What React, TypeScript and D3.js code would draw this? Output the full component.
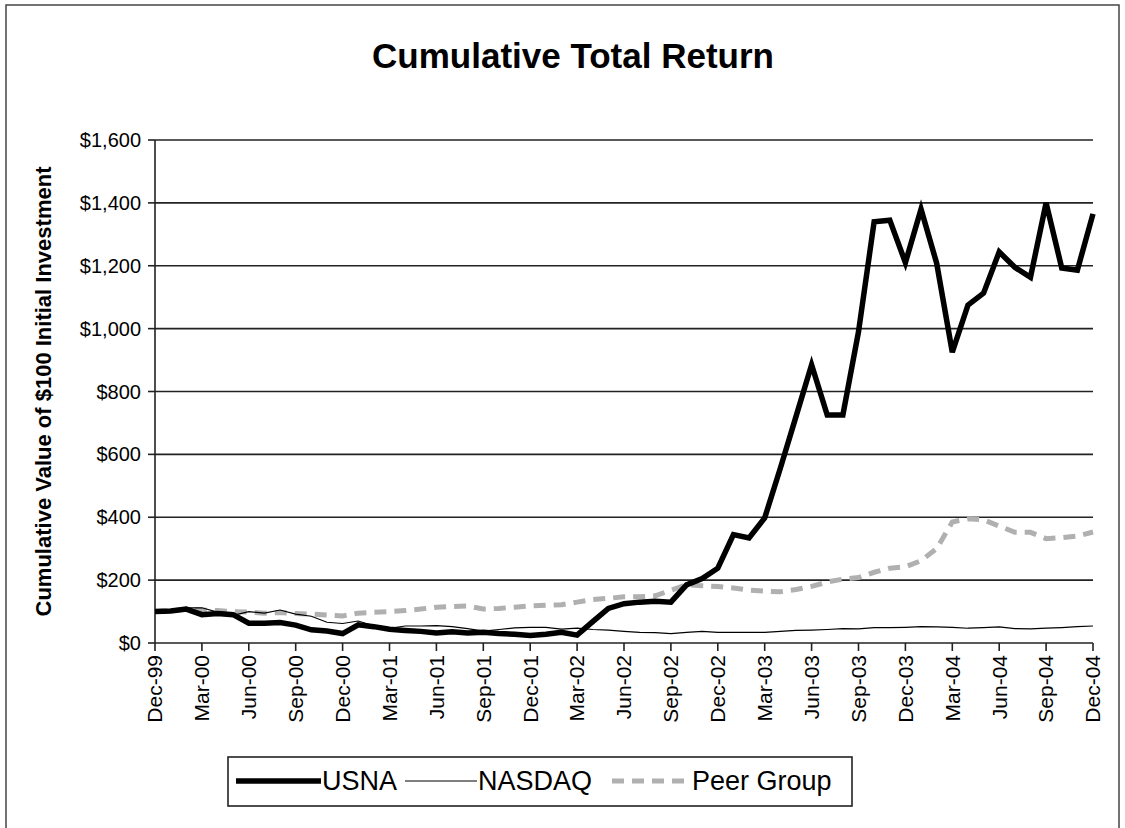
import * as d3 from "d3";

const months = d3.range(61).map((i) => new Date(1999, 11 + i, 1));
const fmt = d3.timeFormat("%b-%y");

const usna = [
  100, 102, 108, 90, 94, 90, 63, 63, 65, 57, 42, 38, 30,
  58, 52, 44, 40, 37, 32, 36, 32, 34, 30, 28, 24,
  28, 34, 25, 68, 110, 125, 130, 133, 130, 185, 205, 238,
  345, 334, 398, 556, 720, 885, 725, 725, 990, 1340, 1345, 1210,
  1380, 1208, 925, 1075, 1113, 1244, 1195, 1163, 1400, 1193, 1186, 1365,
];

const nasdaq = [
  100, 97, 112, 112, 98, 88, 100, 95, 105, 92, 85, 66, 62,
  70, 55, 47, 54, 54, 55, 52, 46, 38, 43, 48, 50,
  50, 44, 47, 43, 41, 37, 34, 33, 30, 34, 37, 34,
  34, 34, 34, 37, 40, 41, 43, 46, 45, 49, 49, 50,
  52, 51, 50, 47, 49, 51, 46, 45, 47, 49, 52, 54,
];

const peer = [
  100, 102, 108, 105, 103, 100, 98, 95, 97, 94, 92, 89, 86,
  95, 98, 100, 103, 108, 114, 116, 118, 108, 110, 114, 118,
  120, 122, 130, 138, 142, 147, 147, 150, 168, 185, 182, 180,
  175, 168, 165, 163, 170, 180, 194, 203, 208, 225, 238, 242,
  262, 300, 385, 395, 392, 372, 352, 352, 332, 335, 340, 353,
];

const yTicks = [0, 200, 400, 600, 800, 1000, 1200, 1400, 1600];
const tickIdx = d3.range(0, 61, 3);

const series = [
  { name: "USNA", values: usna, color: "#000", width: 5.5, dash: "" },
  { name: "NASDAQ", values: nasdaq, color: "#000", width: 1.2, dash: "" },
  { name: "Peer Group", values: peer, color: "#b0b0b0", width: 5, dash: "12,8" },
];

export default function App() {
  const left = 155, right = 1093, top = 140, bottom = 643;
  const x = d3.scaleLinear().domain([0, 60]).range([left, right]);
  const y = d3.scaleLinear().domain([0, 1600]).range([bottom, top]);
  const line = d3
    .line<number>()
    .x((_, i) => x(i))
    .y((d) => y(d))
    .curve(d3.curveLinear);
  const font = "'Liberation Sans', Arial, sans-serif";
  const money = (v: number) => "$" + d3.format(",")(v);

  const legendItems = [
    { s: series[0], x1: 236, x2: 321, tx: 322 },
    { s: series[1], x1: 405, x2: 477, tx: 478 },
    { s: series[2], x1: 612, x2: 690, tx: 692 },
  ];

  return (
    <svg
      width={1125}
      height={828}
      style={{ position: "absolute", left: 0, top: 0, background: "#fff" }}
      fontFamily={font}
    >
      <rect x={6} y={5} width={1113} height={830} fill="#fff" stroke="#444" strokeWidth={1.5} />
      <text x={573} y={68} textAnchor="middle" fontSize={35} fontWeight="bold">
        Cumulative Total Return
      </text>

      {yTicks.map((t) => (
        <g key={t}>
          <line x1={left} x2={right} y1={y(t)} y2={y(t)} stroke="#222" strokeWidth={1.6} />
          <line x1={left - 7} x2={left} y1={y(t)} y2={y(t)} stroke="#222" strokeWidth={1.6} />
          <text x={141} y={y(t)} dy="0.35em" textAnchor="end" fontSize={20}>
            {money(t)}
          </text>
        </g>
      ))}
      <line x1={left} x2={left} y1={top} y2={bottom} stroke="#222" strokeWidth={1.6} />

      {tickIdx.map((i) => (
        <g key={i}>
          <line x1={x(i)} x2={x(i)} y1={bottom} y2={bottom + 8} stroke="#222" strokeWidth={1.6} />
          <text
            transform={`translate(${x(i)},${bottom + 12}) rotate(-90)`}
            dy="0.35em"
            textAnchor="end"
            fontSize={21}
          >
            {fmt(months[i])}
          </text>
        </g>
      ))}

      <text
        transform={`translate(43,${(top + bottom) / 2}) rotate(-90)`}
        textAnchor="middle"
        dy="0.35em"
        fontSize={22}
        fontWeight="bold"
      >
        Cumulative Value of $100 Initial Investment
      </text>

      {[series[2], series[1], series[0]].map((s) => (
        <path
          key={s.name}
          d={line(s.values) || ""}
          fill="none"
          stroke={s.color}
          strokeWidth={s.width}
          strokeDasharray={s.dash}
          strokeLinejoin="miter"
        />
      ))}

      <rect x={228} y={757} width={624} height={49} fill="#fff" stroke="#222" strokeWidth={1.6} />
      {legendItems.map(({ s, x1, x2, tx }) => (
        <g key={s.name}>
          <line x1={x1} x2={x2} y1={781} y2={781} stroke={s.color} strokeWidth={s.width} strokeDasharray={s.dash} />
          <text x={tx} y={781} dy="0.35em" fontSize={27}>
            {s.name}
          </text>
        </g>
      ))}
    </svg>
  );
}
